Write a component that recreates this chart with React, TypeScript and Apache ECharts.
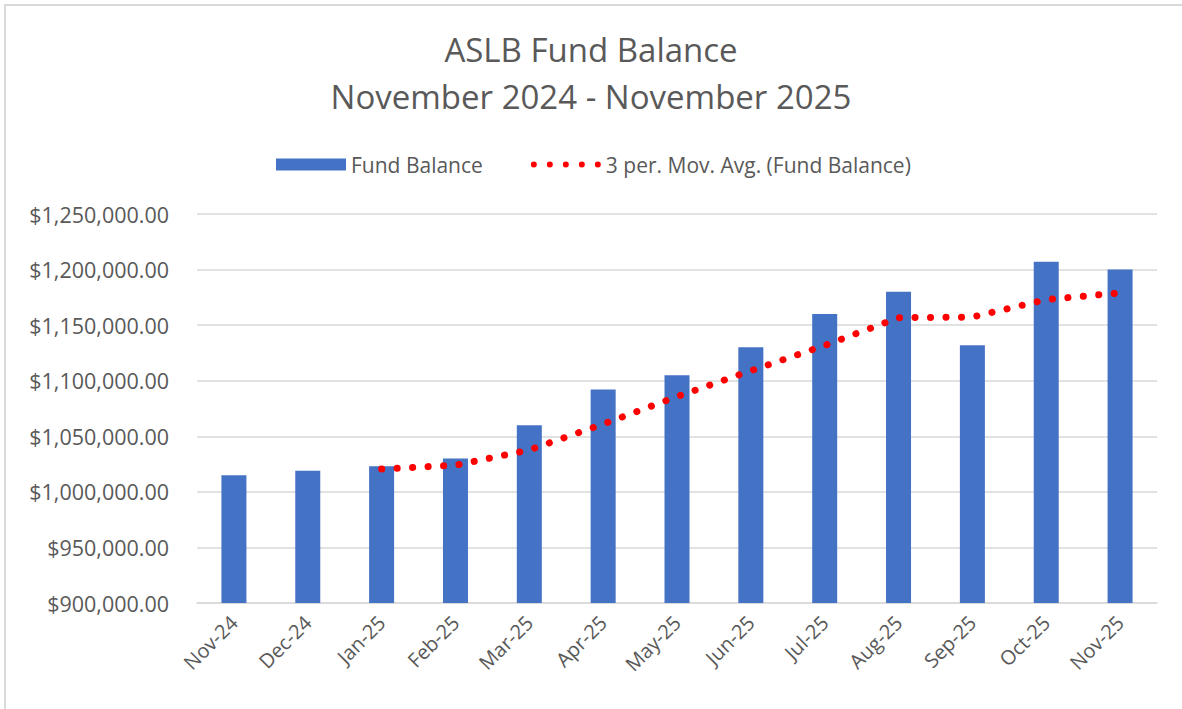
import React, { useEffect, useRef } from "react";
import * as echarts from "echarts";

const categories = ["Nov-24", "Dec-24", "Jan-25", "Feb-25", "Mar-25", "Apr-25", "May-25", "Jun-25", "Jul-25", "Aug-25", "Sep-25", "Oct-25", "Nov-25"];
const fundBalance = [1015000, 1019000, 1023000, 1030000, 1060000, 1092000, 1105000, 1130000, 1160000, 1180000, 1132000, 1207000, 1200000];
const movingAvg = [null, null, 1020500, 1024000, 1037700, 1061000, 1085700, 1109000, 1131700, 1156700, 1157300, 1173000, 1179000];
const yTicks = { min: 900000, max: 1250000, interval: 50000 };

const FONT = "Open Sans";
const TEXT = "#595959";

const dotIcon =
  "path://" +
  [3, 19, 35, 51, 67]
    .map((cx) => `M${cx - 3},3 a3,3 0 1,0 6,0 a3,3 0 1,0 -6,0 Z`)
    .join(" ");

function money(v: number): string {
  const s = Math.round(v).toString().replace(/\B(?=(\d{3})+(?!\d))/g, ",");
  return "$" + s + ".00";
}

export default function App() {
  const ref = useRef<HTMLDivElement>(null);
  useEffect(() => {
    if (!ref.current) return;
    const chart = echarts.init(ref.current, null, { renderer: "svg" });
    chart.setOption({
      animation: false,
      backgroundColor: "#ffffff",
      textStyle: { fontFamily: FONT },
      title: {
        text: "ASLB Fund Balance\nNovember 2024 - November 2025",
        left: "center",
        top: 21,
        textStyle: { fontFamily: FONT, fontSize: 33, fontWeight: "normal", color: TEXT, lineHeight: 47 },
      },
      legend: {
        top: 149,
        left: 271,
        itemGap: 48,
        itemTextGap: 10,
        itemWidth: 70,
        itemHeight: 12,
        textStyle: { fontFamily: FONT, fontSize: 21, color: TEXT },
        data: [
          { name: "Fund Balance", icon: "rect" },
          { name: "3 per. Mov. Avg. (Fund Balance)", icon: dotIcon, itemStyle: { color: "#ff0000" } },
        ],
      },
      graphic: [
        {
          type: "rect",
          shape: { x: 5, y: 5, width: 1200, height: 720 },
          style: { fill: "none", stroke: "#d9d9d9", lineWidth: 2 },
          silent: true,
        },
      ],
      grid: { left: 197, right: 25, top: 214, bottom: 106, containLabel: false },
      xAxis: {
        type: "category",
        data: categories,
        boundaryGap: true,
        axisTick: { show: false },
        axisLine: { lineStyle: { color: "#d9d9d9", width: 1.5 } },
        axisLabel: { rotate: 45, color: TEXT, fontSize: 20, fontFamily: FONT, margin: 16, interval: 0 },
      },
      yAxis: {
        type: "value",
        min: yTicks.min,
        max: yTicks.max,
        interval: yTicks.interval,
        axisLine: { show: false },
        axisTick: { show: false },
        splitLine: { lineStyle: { color: "#d9d9d9", width: 1.5 } },
        axisLabel: { color: TEXT, fontSize: 21.5, fontFamily: FONT, margin: 28, formatter: (v: number) => money(v) },
      },
      series: [
        {
          name: "Fund Balance",
          type: "bar",
          data: fundBalance,
          barWidth: 25,
          itemStyle: { color: "#4472C4" },
        },
        {
          name: "3 per. Mov. Avg. (Fund Balance)",
          type: "line",
          data: movingAvg,
          symbol: "none",
          connectNulls: false,
          itemStyle: { color: "#ff0000" },
          lineStyle: { color: "#ff0000", width: 7, type: [0.1, 15.4], cap: "round" },
          z: 3,
        },
      ],
    });
    return () => chart.dispose();
  }, []);
  return <div ref={ref} style={{ position: "fixed", left: 0, top: 0, width: 1182, height: 709 }} />;
}
